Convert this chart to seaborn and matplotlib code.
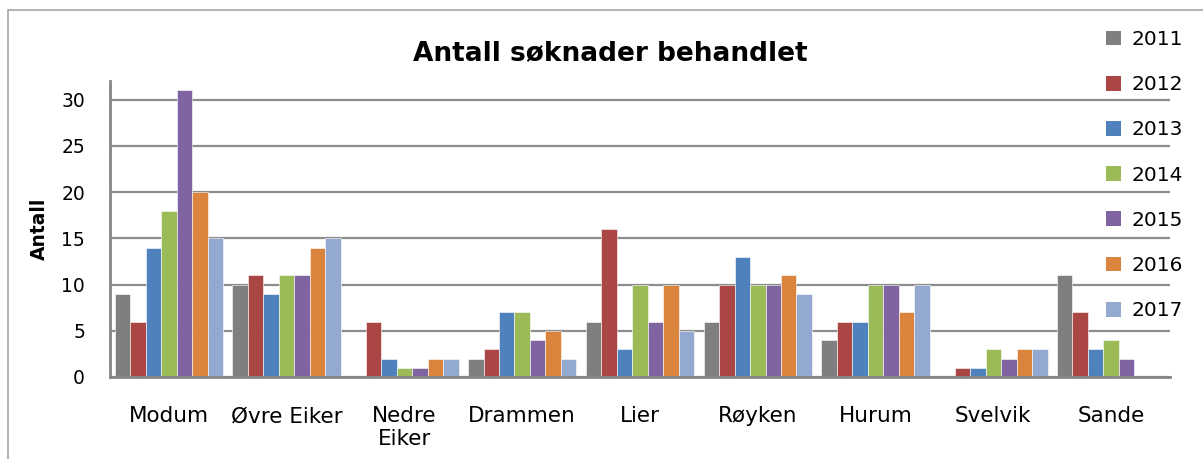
import pandas as pd
import matplotlib.pyplot as plt
import seaborn as sns
from matplotlib.patches import Rectangle

# Data
kommuner = ["Modum", "Øvre Eiker", "Nedre\nEiker", "Drammen", "Lier",
            "Røyken", "Hurum", "Svelvik", "Sande"]
years = ["2011", "2012", "2013", "2014", "2015", "2016", "2017"]
v2011 = [9, 10, 0, 2, 6, 6, 4, 0, 11]
v2012 = [6, 11, 6, 3, 16, 10, 6, 1, 7]
v2013 = [14, 9, 2, 7, 3, 13, 6, 1, 3]
v2014 = [18, 11, 1, 7, 10, 10, 10, 3, 4]
v2015 = [31, 11, 1, 4, 6, 10, 10, 2, 2]
v2016 = [20, 14, 2, 5, 10, 11, 7, 3, 0]
v2017 = [15, 15, 2, 2, 5, 9, 10, 3, 0]
colors = ["#7f7f7f", "#aa4643", "#4f81bd", "#9bbb59", "#8064a2", "#db843d", "#93a9cf"]

series = [v2011, v2012, v2013, v2014, v2015, v2016, v2017]
rows = []
for year, vals in zip(years, series):
    for k, v in zip(kommuner, vals):
        rows.append((k, year, v))
df = pd.DataFrame(rows, columns=["Kommune", "År", "Antall"])

sns.set_style("white")
plt.rcParams['font.family'] = ['DejaVu Sans']
plt.rcParams['text.color'] = 'black'
plt.rcParams['xtick.color'] = 'black'
plt.rcParams['ytick.color'] = 'black'
plt.rcParams['axes.labelcolor'] = 'black'

fig = plt.figure(figsize=(12.03, 4.59), dpi=100)
ax = fig.add_axes([110 / 1203, 1 - 377 / 459, 1060 / 1203, 296 / 459])

sns.barplot(data=df, x="Kommune", y="Antall", hue="År", palette=colors,
            width=0.92, saturation=1, ax=ax, zorder=3)
for p in ax.patches:
    p.set_edgecolor("white")
    p.set_linewidth(0.4 if p.get_height() > 0 else 0)

ax.set_ylim(0, 32)
ax.set_xlim(-0.5, len(kommuner) - 0.5)
ax.set_yticks(range(0, 31, 5))
ax.yaxis.grid(True, color="#8c8c8c", linewidth=1.6, zorder=0)
ax.set_axisbelow(True)
for s in ["top", "right"]:
    ax.spines[s].set_visible(False)
for s in ["left", "bottom"]:
    ax.spines[s].set_color("#868686")
    ax.spines[s].set_linewidth(2)
    ax.spines[s].set_zorder(5)
ax.tick_params(axis="x", length=0, pad=21, labelsize=15.5)
ax.tick_params(axis="y", length=0, pad=18, labelsize=13.5)
for lbl in ax.get_xticklabels():
    lbl.set_linespacing(1.15)
ax.set_xlabel("")
ax.set_ylabel("Antall", fontsize=13.5, fontweight="bold", labelpad=9)

fig.text(0.507, 1 - 53 / 459, "Antall søknader behandlet", ha="center", va="center",
         fontsize=19, fontweight="bold")

handles, labels = ax.get_legend_handles_labels()
ax.legend(handles, labels, loc="upper left", bbox_to_anchor=(1088 / 1203, 1 - 12 / 459),
          bbox_transform=fig.transFigure, frameon=False, fontsize=14.5,
          handlelength=0.75, handleheight=0.75, handletextpad=0.5, labelspacing=1.3)

# outer chart frame (cut off at right and bottom)
fig.patches.append(Rectangle((8 / 1203, -0.1), 1.2, 1 - 10 / 459 + 0.1,
                             transform=fig.transFigure, fill=False,
                             edgecolor="#a6a6a6", linewidth=1.2))

fig.savefig("out.png", dpi=100)
